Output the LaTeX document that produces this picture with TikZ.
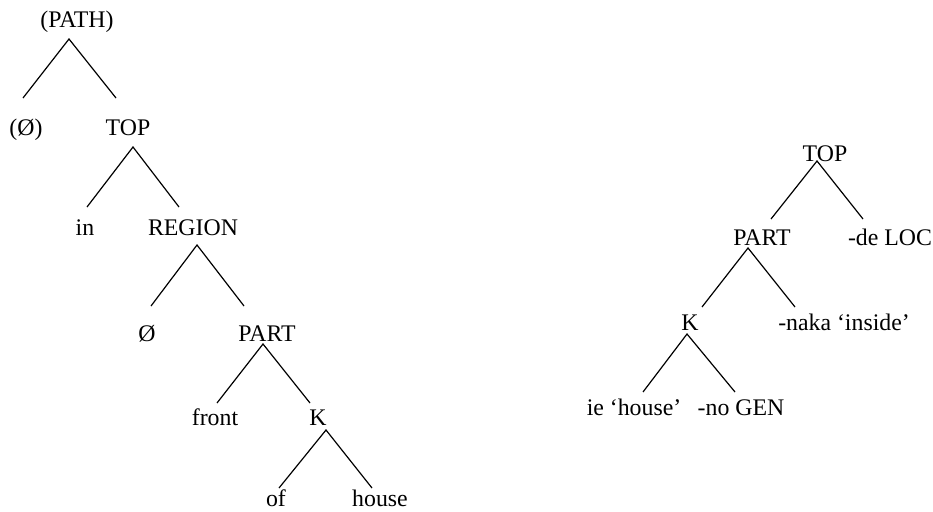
\documentclass[tikz,border=0pt]{standalone}
\usepackage{fontspec}
\setmainfont{Liberation Serif}
\usetikzlibrary{positioning}
\tikzset{lbl/.style={anchor=base, inner sep=0pt}}
\tikzset{branch/.style={line width=1.2pt}}
\begin{document}
\begin{tikzpicture}[x=1pt, y=-1pt, font=\fontsize{23.8}{28}\selectfont]
\useasboundingbox (0,0) rectangle (933,511);
% left tree
\node[lbl] (path) at (77,28) {(PATH)};
\node[lbl] (nulA) at (26,135) {(Ø)};
\node[lbl] (topL) at (128,135) {TOP};
\node[lbl] (in) at (85,235) {in};
\node[lbl] (region) at (193,235) {REGION};
\node[lbl] (nulB) at (147,341) {Ø};
\node[lbl] (partL) at (267,341) {PART};
\node[lbl] (front) at (215,425) {front};
\node[lbl] (kL) at (318,425) {K};
\node[lbl] (of) at (276,506) {of};
\node[lbl] (house) at (380,506) {house};
% branch points
\coordinate (path-a) at (69,39);
\coordinate (nulA-f) at (23,98);
\coordinate (topL-f) at (116,98);
\coordinate (topL-a) at (133,147);
\coordinate (in-f) at (87,207);
\coordinate (region-f) at (179,207);
\coordinate (region-a) at (197,245);
\coordinate (nulB-f) at (151,306);
\coordinate (partL-f) at (244,306);
\coordinate (partL-a) at (263,344);
\coordinate (front-f) at (217,403);
\coordinate (kL-f) at (310,403);
\coordinate (kL-a) at (326,430);
\coordinate (of-f) at (279,488);
\coordinate (house-f) at (372,488);
\draw[branch] (nulA-f)--(path-a)--(topL-f);
\draw[branch] (in-f)--(topL-a)--(region-f);
\draw[branch] (nulB-f)--(region-a)--(partL-f);
\draw[branch] (front-f)--(partL-a)--(kL-f);
\draw[branch] (of-f)--(kL-a)--(house-f);
% right tree
\node[lbl] (topR) at (825,161) {TOP};
\node[lbl] (partR) at (762,245) {PART};
\node[lbl] (deloc) at (890,245) {-de LOC};
\node[lbl] (kR) at (690,330) {K};
\node[lbl] (naka) at (844,330) {-naka ‘inside’};
\node[lbl] (ie) at (634,415) {ie ‘house’};
\node[lbl] (nogen) at (741,415) {-no GEN};
\coordinate (topR-a) at (817,161);
\coordinate (partR-f) at (771,219);
\coordinate (deloc-f) at (863,219);
\coordinate (partR-a) at (748,248);
\coordinate (kR-f) at (702,307);
\coordinate (naka-f) at (795,307);
\coordinate (kR-a) at (687,334);
\coordinate (ie-f) at (643,392);
\coordinate (nogen-f) at (735,392);
\draw[branch] (partR-f)--(topR-a)--(deloc-f);
\draw[branch] (kR-f)--(partR-a)--(naka-f);
\draw[branch] (ie-f)--(kR-a)--(nogen-f);
\end{tikzpicture}
\end{document}
